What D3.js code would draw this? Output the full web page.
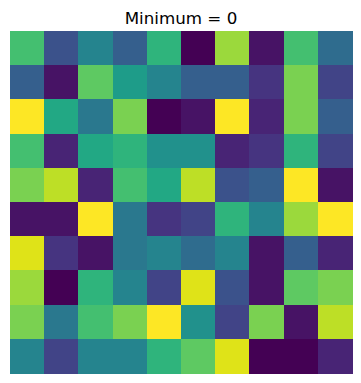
<!DOCTYPE html>
<html>
<head>
<meta charset="utf-8">
<script src="https://cdn.jsdelivr.net/npm/d3@7"></script>
<style>
  html, body { margin: 0; padding: 0; background: #fff; }
  svg { display: block; }
</style>
</head>
<body>
<div id="chart"></div>
<script>
// Grid values (viridis, 0 .. 20)
const rows = d3.range(10);
const cols = d3.range(10);
const values = [
  [14, 5, 9, 6, 13, 0, 17, 1, 14, 7],
  [6, 1, 15, 11, 9, 6, 6, 3, 16, 4],
  [20, 12, 8, 16, 0, 1, 20, 2, 16, 6],
  [14, 2, 12, 13, 10, 10, 2, 3, 13, 4],
  [16, 18, 2, 14, 12, 18, 5, 6, 20, 1],
  [1, 1, 20, 8, 3, 4, 13, 9, 17, 20],
  [19, 3, 1, 8, 9, 7, 9, 1, 6, 2],
  [17, 0, 13, 9, 4, 19, 5, 1, 15, 16],
  [16, 8, 14, 16, 20, 10, 4, 16, 1, 18],
  [9, 4, 9, 9, 13, 15, 19, 0, 0, 2]
];
const valueRange = [0, 20];
const titleText = 'Minimum = ' + d3.min(values.flat());

const width = 361, height = 383;
const margin = { top: 31, right: 9, bottom: 10, left: 10 };
const size = width - margin.left - margin.right;

const svg = d3.select('#chart')
  .append('svg')
  .attr('width', width)
  .attr('height', height);

const x = d3.scaleBand().domain(cols).range([margin.left, margin.left + size]);
const y = d3.scaleBand().domain(rows).range([margin.top, margin.top + size]);
const color = d3.scaleSequential(d3.interpolateViridis).domain(valueRange);

// cells
const cells = [];
rows.forEach(r => cols.forEach(c => cells.push({ r, c, v: values[r][c] })));

svg.append('g')
  .selectAll('rect')
  .data(cells)
  .join('rect')
  .attr('x', d => x(d.c))
  .attr('y', d => y(d.r))
  .attr('width', x.bandwidth() + 0.5)
  .attr('height', y.bandwidth() + 0.5)
  .attr('fill', d => color(d.v))
  .attr('shape-rendering', 'crispEdges');

// title
svg.append('text')
  .attr('x', margin.left + size / 2)
  .attr('y', 24)
  .attr('text-anchor', 'middle')
  .style('font-family', 'DejaVu Sans, sans-serif')
  .style('font-size', '16.7px')
  .style('fill', '#000')
  .text(titleText);
</script>
</body>
</html>
